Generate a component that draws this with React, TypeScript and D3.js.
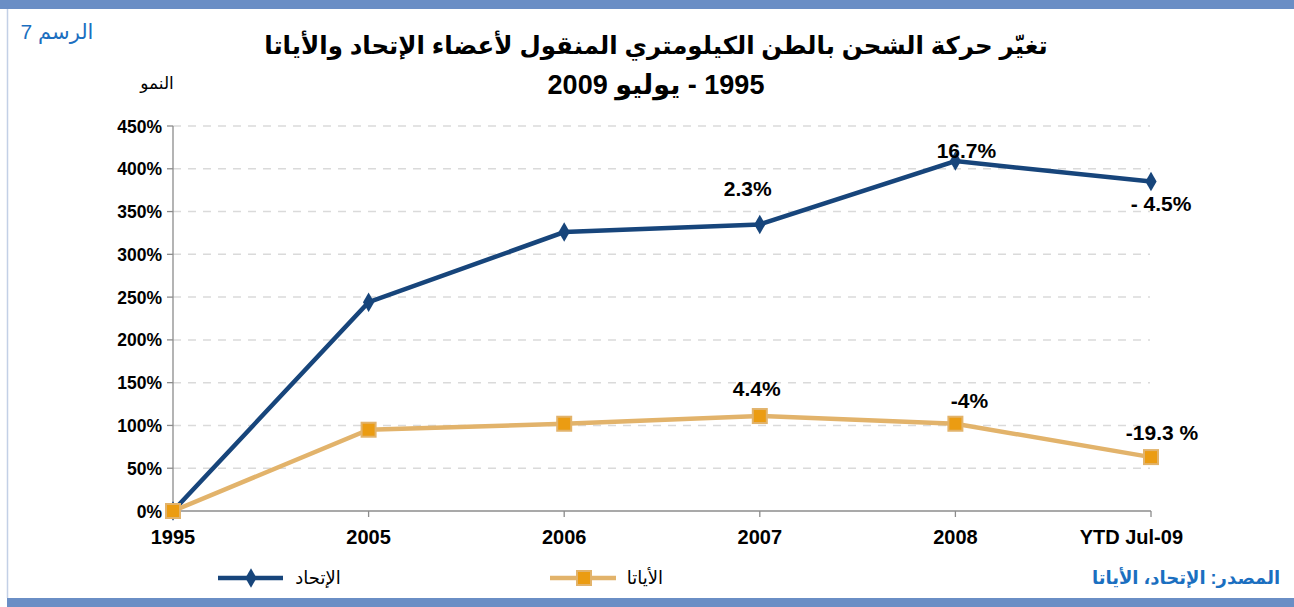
import React from 'react';
import * as d3 from 'd3';

// categories and series (growth since 1995, %)
const categories = ['1995', '2005', '2006', '2007', '2008', 'YTD Jul-09'];
const uaeValues = [0, 244, 326, 335, 409, 385];
const iataValues = [0, 95, 102, 111, 102, 63];
const yTicks = [0, 50, 100, 150, 200, 250, 300, 350, 400, 450];

// data labels (annual change)
const uaeLabels = ['', '', '', '2.3%', '16.7%', '- 4.5%'];
const iataLabels = ['', '', '', '4.4%', '-4%', '-19.3 %'];
const uaeLabelOffsets = [[0, 0], [0, 0], [0, 0], [-12, -28], [11, -3], [10, 29]];
const iataLabelOffsets = [[0, 0], [0, 0], [0, 0], [-3, -20], [14, -16], [11, -17]];

const seriesNames = ['الإتحاد', 'الأياتا'];
const titleLines = ['تغيّر حركة الشحن بالطن الكيلومتري المنقول لأعضاء الإتحاد والأياتا', '1995 - يوليو 2009'];

const W = 1294;
const H = 607;
const BLUE = '#17457b';
const TAN = '#e2b36b';
const ORANGE = '#eb9c12';
const FRAME = '#6a8ec5';
const FONT = '"Liberation Sans", Arial, "DejaVu Sans", sans-serif';

const App = () => {
  const x = d3.scalePoint<string>().domain(categories).range([173, 1151]);
  const y = d3.scaleLinear().domain([0, 450]).range([511, 126]);

  const line = d3
    .line<number>()
    .x((d, i) => x(categories[i]) as number)
    .y((d) => y(d));

  const diamond = d3.symbol().type(d3.symbolDiamond).size(110)() as string;
  const last = categories[categories.length - 1];

  return (
    <div>
      <style>{'body{margin:0}'}</style>
      <svg width={W} height={H} style={{ display: 'block', fontFamily: FONT }}>
        <rect width={W} height={H} fill="#fff" />
        {/* frame */}
        <rect x={0} y={0} width={W} height={9} fill={FRAME} />
        <rect x={7} y={598} width={W - 7} height={9} fill={FRAME} />
        <line x1={7.5} x2={7.5} y1={9} y2={598} stroke="#c3d0e6" strokeWidth={1.5} />

        <text x={57} y={39} textAnchor="middle" direction="rtl" fontSize={21} fill="#1b6fc0">
          الرسم 7
        </text>

        {/* title */}
        {titleLines.map((t, i) => (
          <text key={i} x={656} y={54 + i * 40} textAnchor="middle" direction="rtl"
            fontSize={i === 0 ? 24.5 : 27} fontWeight="bold" fill="#000">
            {t}
          </text>
        ))}

        <text x={157} y={89} textAnchor="middle" direction="rtl" fontSize={17} fill="#000">
          النمو
        </text>

        {/* grid */}
        {yTicks.slice(1).map((t) => (
          <line key={t} x1={173} x2={1150} y1={y(t)} y2={y(t)} stroke="#dadada"
            strokeWidth={1.5} strokeDasharray="8,7" />
        ))}

        {/* y axis */}
        <line x1={173} x2={173} y1={126} y2={511} stroke="#8c8c8c" strokeWidth={1.3} />
        {yTicks.map((t) => (
          <g key={t}>
            <line x1={167} x2={173} y1={y(t)} y2={y(t)} stroke="#8c8c8c" strokeWidth={1.3} />
            <text x={162} y={y(t) + 6.5} textAnchor="end" fontSize={17.5} fontWeight="bold" fill="#000">
              {t}%
            </text>
          </g>
        ))}

        {/* x axis */}
        <line x1={173} x2={1151} y1={511} y2={511} stroke="#8c8c8c" strokeWidth={1.3} />
        {categories.map((c) => (
          <g key={c}>
            <line x1={x(c)} x2={x(c)} y1={511} y2={517} stroke="#8c8c8c" strokeWidth={1.3} />
            <text x={c === last ? (x(c) as number) + 32 : x(c)} y={544}
              textAnchor={c === last ? 'end' : 'middle'} fontSize={20} fontWeight="bold" fill="#000">
              {c}
            </text>
          </g>
        ))}

        {/* UAE series */}
        <path d={line(uaeValues) as string} fill="none" stroke={BLUE} strokeWidth={4.5} />
        {uaeValues.map((v, i) => (
          <path key={i} d={diamond} transform={`translate(${x(categories[i])},${y(v)})`} fill={BLUE} />
        ))}

        {/* IATA series */}
        <path d={line(iataValues) as string} fill="none" stroke={TAN} strokeWidth={4.5} />
        {iataValues.map((v, i) => (
          <rect key={i} x={(x(categories[i]) as number) - 7} y={y(v) - 7} width={14} height={14}
            fill={ORANGE} stroke={TAN} strokeWidth={2} />
        ))}

        {/* data labels */}
        {uaeLabels.map((l, i) => l && (
          <text key={'u' + i} x={(x(categories[i]) as number) + uaeLabelOffsets[i][0]}
            y={y(uaeValues[i]) + uaeLabelOffsets[i][1]} textAnchor="middle" fontSize={21}
            fontWeight="bold" fill="#000">
            {l}
          </text>
        ))}
        {iataLabels.map((l, i) => l && (
          <text key={'i' + i} x={(x(categories[i]) as number) + iataLabelOffsets[i][0]}
            y={y(iataValues[i]) + iataLabelOffsets[i][1]} textAnchor="middle" fontSize={21}
            fontWeight="bold" fill="#000">
            {l}
          </text>
        ))}

        {/* legend */}
        <line x1={218} x2={283} y1={578} y2={578} stroke={BLUE} strokeWidth={4.5} />
        <path d={diamond} transform="translate(251,578)" fill={BLUE} />
        <text x={318} y={584} textAnchor="middle" direction="rtl" fontSize={18} fill="#000">
          {seriesNames[0]}
        </text>
        <line x1={550} x2={616} y1={578} y2={578} stroke={TAN} strokeWidth={4.5} />
        <rect x={577} y={571} width={14} height={14} fill={ORANGE} stroke={TAN} strokeWidth={2} />
        <text x={645} y={584} textAnchor="middle" direction="rtl" fontSize={18} fill="#000">
          {seriesNames[1]}
        </text>

        <text x={1186} y={584} textAnchor="middle" direction="rtl" fontSize={18} fontWeight="bold"
          fill="#1b6fc0">
          المصدر: الإتحاد، الأياتا
        </text>
      </svg>
    </div>
  );
};

export default App;
